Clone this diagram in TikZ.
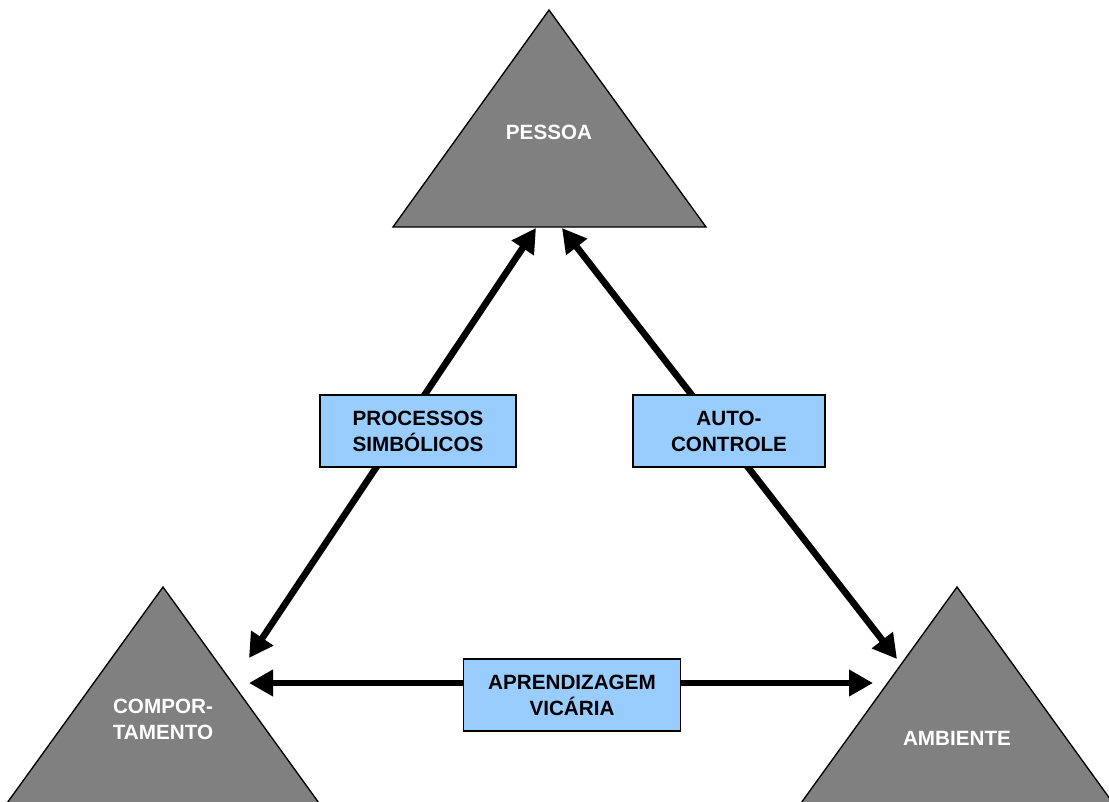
\documentclass[tikz,border=0pt]{standalone}
\usepackage{fontspec}
\setmainfont{Liberation Sans}
\usetikzlibrary{arrows.meta,positioning}
\definecolor{trigray}{HTML}{808080}
\definecolor{boxblue}{HTML}{99CCFF}

\begin{document}
\begin{tikzpicture}[x=0.75pt,y=-0.75pt,
	tri/.style={fill=trigray,draw=black,line width=1pt},
	lbl/.style={text=white,font=\fontsize{15.5}{19.5}\selectfont\bfseries,align=center},
	caixa/.style={draw=black,fill=boxblue,line width=1.1pt,minimum height=54pt,inner sep=0pt,
		font=\fontsize{15.5}{19.5}\selectfont\bfseries,align=center},
	seta/.style={line width=5pt,{Triangle[length=18pt,width=19pt]}-{Triangle[length=18pt,width=19pt]}}]
	\useasboundingbox (0,0) rectangle (1109,801);
	\clip (0,0) rectangle (1109,801);
	
	% triangulos
	\draw[tri] (549,10) -- (706,227) -- (393,227) -- cycle;
	\draw[tri] (163,587) -- (324,810) -- (2,810) -- cycle;
	\draw[tri] (957,587) -- (1118,810) -- (796,810) -- cycle;
	\node[lbl] (pessoa) at (549,132) {PESSOA};
	\node[lbl] (comp) at (163,719) {COMPOR-\\TAMENTO};
	\node[lbl] (amb) at (957,738) {AMBIENTE};
	
	% pontas das setas
	\coordinate (pesL) at (536,228);
	\coordinate (pesR) at (562,228);
	\coordinate (compD) at (249,658);
	\coordinate (compH) at (249,683);
	\coordinate (ambD) at (897,659);
	\coordinate (ambH) at (873,683);
	
	\draw[seta] (compD) -- (pesL);
	\draw[seta] (pesR) -- (ambD);
	\draw[seta] (compH) -- (ambH);
	
	% caixas
	\node[caixa,minimum width=147pt] (simb) at (418,431) {PROCESSOS\\SIMBÓLICOS};
	\node[caixa,minimum width=144pt] (autoc) at (729,431) {AUTO-\\CONTROLE};
	\node[caixa,minimum width=163pt] (vic) at (572,695) {APRENDIZAGEM\\VICÁRIA};
\end{tikzpicture}
\end{document}
